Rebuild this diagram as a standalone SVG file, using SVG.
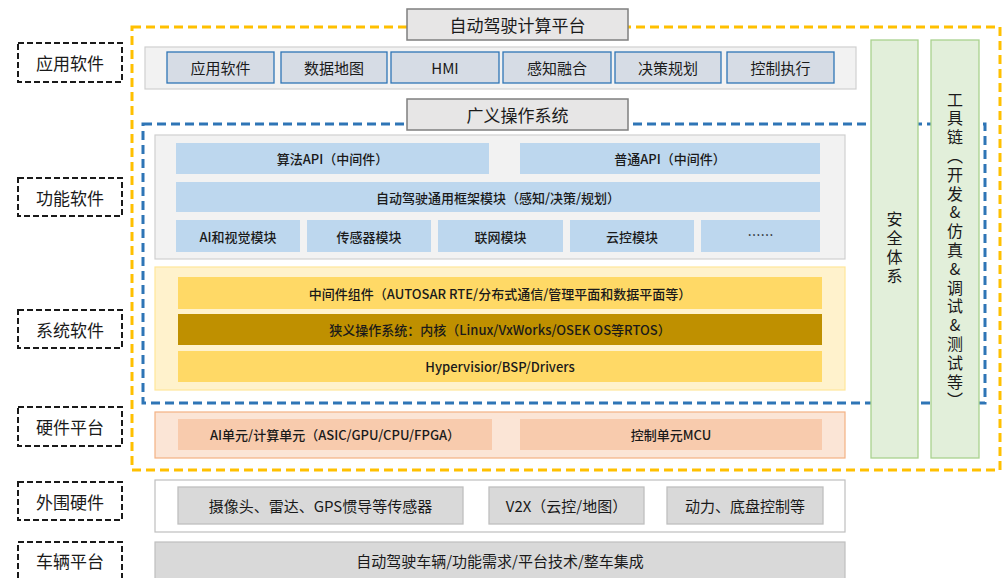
<svg xmlns="http://www.w3.org/2000/svg" width="1006" height="578" viewBox="0 0 1006 578">
<style>
text{font-family:"Noto Sans CJK SC","Noto Sans",sans-serif;fill:#1a1a1a;text-anchor:middle;dominant-baseline:central}
.lbl rect{fill:#fff;stroke:#1a1a1a;stroke-width:2;stroke-dasharray:6 3}
.lbl text{font-size:17px}
.title rect{fill:#e7e6e6;stroke:#7f7f7f;stroke-width:1.5}
.title text{font-size:17px}
.app rect{fill:#d6dce5;stroke:#2e75b6;stroke-width:1.3}
.app text{font-size:15px}
.fn rect{fill:#bdd7ee}
.fn text,.sys text,.hw text{font-size:13px;font-weight:500}
.per rect{fill:#d9d9d9;stroke:#bfbfbf;stroke-width:1.3}
.per text{font-size:15px}
.green rect{fill:#e2efda;stroke:#a9d18e;stroke-width:1.3}
.green text{font-size:16px;writing-mode:vertical-rl;text-orientation:upright;text-anchor:start;font-feature-settings:"vert" 0,"vrt2" 0}
</style>

<g id="outer-platform"><rect x="132" y="27" width="868" height="443" fill="none" stroke="#ffc000" stroke-width="3" stroke-dasharray="9 5"/></g>
<g id="os-region"><rect x="143" y="124" width="842" height="279" fill="none" stroke="#2e75b6" stroke-width="3" stroke-dasharray="9 5"/></g>

<!-- left labels -->
<g id="lbl-app" class="lbl"><rect x="18" y="43" width="104" height="39"/><text x="70" y="62.5">应用软件</text></g>
<g id="lbl-func" class="lbl"><rect x="18" y="178" width="104" height="38"/><text x="70" y="197">功能软件</text></g>
<g id="lbl-sys" class="lbl"><rect x="18" y="310" width="104" height="38"/><text x="70" y="329">系统软件</text></g>
<g id="lbl-hw" class="lbl"><rect x="18" y="407" width="104" height="39"/><text x="70" y="426.5">硬件平台</text></g>
<g id="lbl-per" class="lbl"><rect x="18" y="482" width="104" height="38"/><text x="70" y="501">外围硬件</text></g>
<g id="lbl-veh" class="lbl"><rect x="18" y="542" width="104" height="40"/><text x="70" y="560">车辆平台</text></g>

<!-- titles -->
<g id="title-platform" class="title"><rect x="407" y="9" width="221" height="31"/><text x="517.5" y="24.5">自动驾驶计算平台</text></g>
<g id="title-os" class="title"><rect x="407" y="99" width="221" height="31"/><text x="517.5" y="114.5">广义操作系统</text></g>

<!-- application row -->
<g id="app-row" class="app">
<rect x="145" y="47" width="711" height="42" style="fill:#f2f2f2;stroke:#d0d0d0;stroke-width:1.2"/>
<rect x="167" y="52" width="107" height="31"/><text x="220.5" y="67.5">应用软件</text>
<rect x="281" y="52" width="106" height="31"/><text x="334" y="67.5">数据地图</text>
<rect x="391" y="52" width="108" height="31"/><text x="445" y="67.5">HMI</text>
<rect x="503" y="52" width="108" height="31"/><text x="557" y="67.5">感知融合</text>
<rect x="615" y="52" width="106" height="31"/><text x="668" y="67.5">决策规划</text>
<rect x="727" y="52" width="107" height="31"/><text x="780.5" y="67.5">控制执行</text>
</g>

<!-- functional software -->
<g id="func-sw" class="fn">
<rect x="155" y="135" width="690" height="124" style="fill:#f2f2f2;stroke:#d0d0d0;stroke-width:1.2"/>
<rect x="176" y="143" width="313" height="31"/><text x="332.5" y="158.5">算法API（中间件）</text>
<rect x="520" y="143" width="300" height="31"/><text x="670" y="158.5">普通API（中间件）</text>
<rect x="176" y="182" width="644" height="30"/><text x="498" y="197">自动驾驶通用框架模块（感知/决策/规划）</text>
<rect x="176" y="220" width="124" height="32"/><text x="238" y="236">AI和视觉模块</text>
<rect x="307" y="220" width="124" height="32"/><text x="369" y="236">传感器模块</text>
<rect x="438" y="220" width="125" height="32"/><text x="500.5" y="236">联网模块</text>
<rect x="570" y="220" width="124" height="32"/><text x="632" y="236">云控模块</text>
<rect x="701" y="220" width="119" height="32"/><text x="760.5" y="234">……</text>
</g>

<!-- system software -->
<g id="sys-sw" class="sys">
<rect x="155" y="267" width="690" height="123" fill="#fff2cc" stroke="#ffe699" stroke-width="1.2"/>
<rect x="178" y="277" width="644" height="32" fill="#ffd966"/><text x="500" y="293">中间件组件（AUTOSAR RTE/分布式通信/管理平面和数据平面等）</text>
<rect x="178" y="314" width="644" height="31" fill="#bf9000"/><text x="500" y="329.5">狭义操作系统：内核（Linux/VxWorks/OSEK OS等RTOS）</text>
<rect x="178" y="351" width="644" height="31" fill="#ffd966"/><text x="500" y="366.5">Hypervisior/BSP/Drivers</text>
</g>

<!-- hardware platform -->
<g id="hw-platform" class="hw">
<rect x="155" y="412" width="690" height="46" fill="#fbe5d6" stroke="#f4b183" stroke-width="1.2"/>
<rect x="178" y="419" width="314" height="31" fill="#f8cbad"/><text x="335" y="434.5">AI单元/计算单元（ASIC/GPU/CPU/FPGA）</text>
<rect x="520" y="419" width="302" height="31" fill="#f8cbad"/><text x="671" y="434.5">控制单元MCU</text>
</g>

<!-- green columns -->
<g id="safety" class="green"><rect x="871" y="40" width="47" height="418"/>
<text x="894.5" y="211" letter-spacing="3">安全体系</text></g>
<g id="toolchain" class="green"><rect x="931" y="40" width="48" height="418"/>
<text x="955" y="91.5" letter-spacing="2.8">工具链（开发&amp;仿真&amp;调试&amp;测试等）</text></g>

<!-- peripheral hardware -->
<g id="peripheral" class="per">
<rect x="155" y="480" width="690" height="52" style="fill:#fff;stroke:#bfbfbf;stroke-width:1.2"/>
<rect x="178" y="487" width="285" height="37"/><text x="320.5" y="505.5">摄像头、雷达、GPS惯导等传感器</text>
<rect x="489" y="487" width="155" height="37"/><text x="566.5" y="505.5">V2X（云控/地图）</text>
<rect x="667" y="487" width="156" height="37"/><text x="745" y="505.5">动力、底盘控制等</text>
</g>

<!-- vehicle platform -->
<g id="vehicle"><rect x="155" y="542" width="690" height="40" fill="#d9d9d9" stroke="#bfbfbf" stroke-width="1.2"/>
<text x="500" y="560" style="font-size:15px">自动驾驶车辆/功能需求/平台技术/整车集成</text></g>

<g id="connectors"></g>
</svg>
